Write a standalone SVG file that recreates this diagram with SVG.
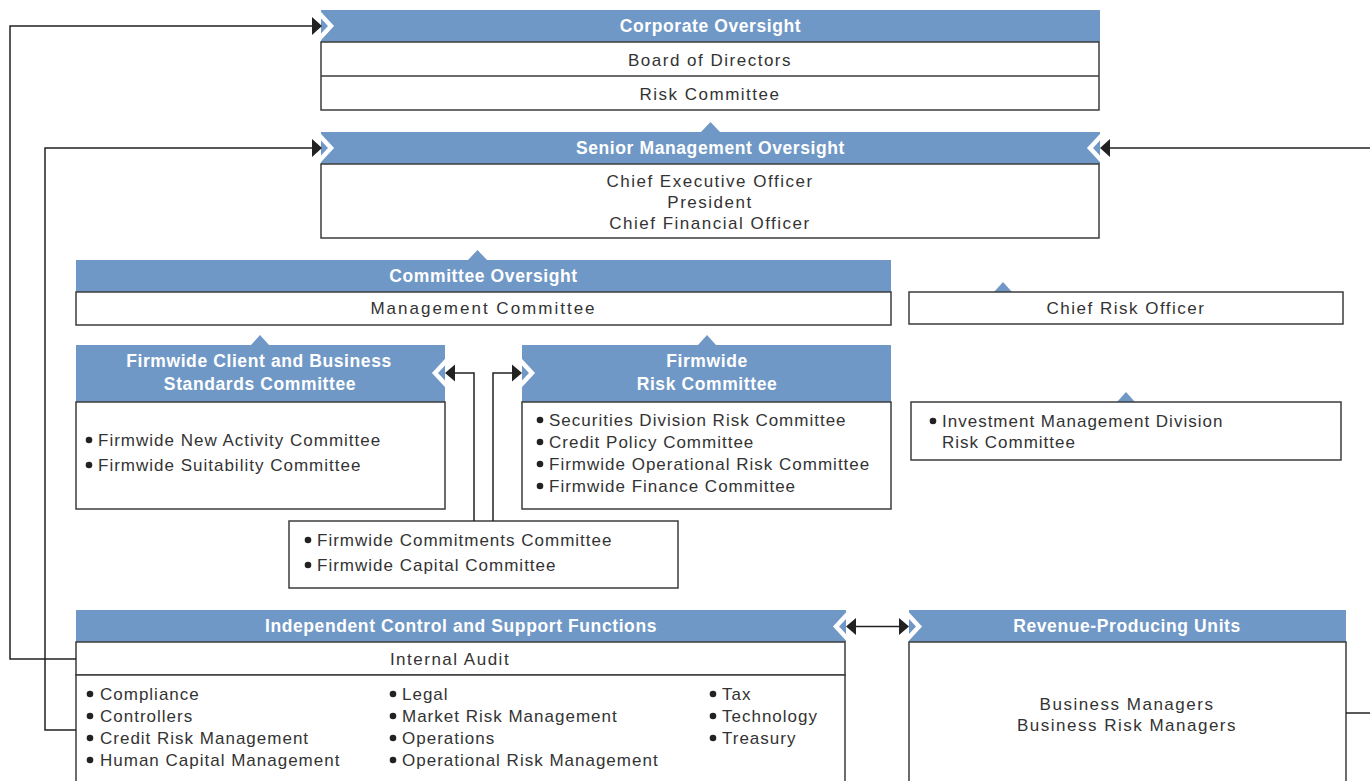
<svg xmlns="http://www.w3.org/2000/svg" width="1370" height="781" viewBox="0 0 1370 781">
<defs>
<style>
.hdr{fill:#7098C6;}
.notch{fill:#7098C6;}
.box{fill:#fff;stroke:#3c3c3c;stroke-width:1.5;}
.div{stroke:#3c3c3c;stroke-width:1.5;}
.chev{fill:none;stroke:#fff;stroke-width:4.5;stroke-linejoin:miter;}
.ht{font-family:"Liberation Sans",Arial,sans-serif;font-weight:bold;font-size:17.5px;letter-spacing:0.6px;fill:#fff;text-anchor:middle;}
.bt{font-family:"Liberation Sans",Arial,sans-serif;font-size:17px;letter-spacing:1.5px;fill:#333;}
.li{font-family:"Liberation Sans",Arial,sans-serif;font-size:17px;letter-spacing:1px;fill:#333;}
.c{text-anchor:middle;}
.bl{fill:#222;}
.ln{fill:none;stroke:#222;stroke-width:1.5;}
.ah{fill:#222;}
</style>
</defs>
<rect width="1370" height="781" fill="#fff"/>

<g id="corporate-oversight">
<rect class="hdr" x="321" y="10" width="779" height="32"/>
<polyline class="chev" points="319,13 331,26 319,39"/>
<rect class="box" x="321" y="42" width="778" height="68"/>
<line class="div" x1="321" y1="76" x2="1099" y2="76"/>
<text class="ht" x="710.5" y="32">Corporate Oversight</text>
<text class="bt c" x="710" y="66">Board of Directors</text>
<text class="bt c" x="710" y="99.5">Risk Committee</text>
</g>

<g id="senior-management-oversight">
<polygon class="notch" points="701,132 710.5,122 720,132"/>
<rect class="hdr" x="321" y="132" width="779" height="32"/>
<polyline class="chev" points="319,135 331,148 319,161"/>
<polyline class="chev" points="1102,135 1090,148 1102,161"/>
<rect class="box" x="321" y="164" width="778" height="74"/>
<text class="ht" x="710.5" y="154">Senior Management Oversight</text>
<text class="bt c" x="710" y="187">Chief Executive Officer</text>
<text class="bt c" x="710" y="208">President</text>
<text class="bt c" x="710" y="229">Chief Financial Officer</text>
</g>

<g id="committee-oversight">
<polygon class="notch" points="468,260 477.5,250 487,260"/>
<rect class="hdr" x="76" y="260" width="815" height="32"/>
<rect class="box" x="76" y="292" width="815" height="33"/>
<text class="ht" x="483.5" y="282">Committee Oversight</text>
<text class="bt c" x="483.5" y="314" style="letter-spacing:2px">Management Committee</text>
</g>

<g id="chief-risk-officer">
<polygon class="notch" points="994,292 1003,282 1012,292"/>
<rect class="box" x="909" y="292" width="434" height="32"/>
<text class="bt c" x="1126" y="313.5">Chief Risk Officer</text>
</g>

<g id="firmwide-client-business-standards">
<polygon class="notch" points="251,345 260,335 269,345"/>
<rect class="hdr" x="76" y="345" width="369" height="57"/>
<polyline class="chev" points="447,360 435,373 447,386"/>
<rect class="box" x="76" y="402" width="369" height="107"/>
<text class="ht" x="259" y="367">Firmwide Client and Business</text>
<text class="ht" x="260" y="390">Standards Committee</text>
<circle class="bl" cx="89" cy="440" r="3.3"/>
<text class="li" x="98" y="446">Firmwide New Activity Committee</text>
<circle class="bl" cx="89" cy="465" r="3.3"/>
<text class="li" x="98" y="471">Firmwide Suitability Committee</text>
</g>

<g id="firmwide-risk-committee">
<polygon class="notch" points="698,345 707,335 716,345"/>
<rect class="hdr" x="522" y="345" width="369" height="57"/>
<polyline class="chev" points="520,360 532,373 520,386"/>
<rect class="box" x="522" y="402" width="369" height="107"/>
<text class="ht" x="707" y="367">Firmwide</text>
<text class="ht" x="707" y="390">Risk Committee</text>
<circle class="bl" cx="540" cy="420" r="3.3"/>
<text class="li" x="549" y="426">Securities Division Risk Committee</text>
<circle class="bl" cx="540" cy="442" r="3.3"/>
<text class="li" x="549" y="448">Credit Policy Committee</text>
<circle class="bl" cx="540" cy="464" r="3.3"/>
<text class="li" x="549" y="470">Firmwide Operational Risk Committee</text>
<circle class="bl" cx="540" cy="486" r="3.3"/>
<text class="li" x="549" y="492">Firmwide Finance Committee</text>
</g>

<g id="imd-risk-committee">
<polygon class="notch" points="1117,402 1126,392 1135,402"/>
<rect class="box" x="911" y="402" width="430" height="58"/>
<circle class="bl" cx="933" cy="421" r="3.3"/>
<text class="li" x="942" y="427">Investment Management Division</text>
<text class="li" x="942" y="448">Risk Committee</text>
</g>

<g id="commitments-capital">
<rect class="box" x="289" y="521" width="389" height="67"/>
<circle class="bl" cx="308" cy="540" r="3.3"/>
<text class="li" x="317" y="546">Firmwide Commitments Committee</text>
<circle class="bl" cx="308" cy="565" r="3.3"/>
<text class="li" x="317" y="571">Firmwide Capital Committee</text>
</g>

<g id="independent-control">
<rect class="hdr" x="76" y="610" width="770" height="32"/>
<polyline class="chev" points="848,613.5 836,626.5 848,639.5"/>
<rect class="box" x="76" y="642" width="769" height="33"/>
<rect class="box" x="76" y="675" width="769" height="120"/>
<text class="ht" x="461" y="632">Independent Control and Support Functions</text>
<text class="bt c" x="450" y="665">Internal Audit</text>
<circle class="bl" cx="90" cy="694" r="3.3"/>
<text class="li" x="100" y="700">Compliance</text>
<circle class="bl" cx="90" cy="716" r="3.3"/>
<text class="li" x="100" y="722">Controllers</text>
<circle class="bl" cx="90" cy="738" r="3.3"/>
<text class="li" x="100" y="744">Credit Risk Management</text>
<circle class="bl" cx="90" cy="760" r="3.3"/>
<text class="li" x="100" y="766">Human Capital Management</text>
<circle class="bl" cx="393" cy="694" r="3.3"/>
<text class="li" x="402" y="700">Legal</text>
<circle class="bl" cx="393" cy="716" r="3.3"/>
<text class="li" x="402" y="722">Market Risk Management</text>
<circle class="bl" cx="393" cy="738" r="3.3"/>
<text class="li" x="402" y="744">Operations</text>
<circle class="bl" cx="393" cy="760" r="3.3"/>
<text class="li" x="402" y="766">Operational Risk Management</text>
<circle class="bl" cx="713" cy="694" r="3.3"/>
<text class="li" x="722" y="700">Tax</text>
<circle class="bl" cx="713" cy="716" r="3.3"/>
<text class="li" x="722" y="722">Technology</text>
<circle class="bl" cx="713" cy="738" r="3.3"/>
<text class="li" x="722" y="744">Treasury</text>
</g>

<g id="revenue-producing-units">
<rect class="hdr" x="909" y="610" width="437" height="32"/>
<polyline class="chev" points="907,613.5 919,626.5 907,639.5"/>
<rect class="box" x="909" y="642" width="437" height="150"/>
<text class="ht" x="1127" y="632">Revenue-Producing Units</text>
<text class="bt c" x="1127" y="710">Business Managers</text>
<text class="bt c" x="1127" y="731">Business Risk Managers</text>
</g>

<g id="connectors">
<polyline class="ln" points="76,659 10,659 10,26 312,26"/>
<polygon class="ah" points="312,17 322,26 312,35"/>
<polyline class="ln" points="76,730 45,730 45,148 312,148"/>
<polygon class="ah" points="312,139 322,148 312,157"/>
<polyline class="ln" points="1372,148 1110,148"/>
<polygon class="ah" points="1110,139 1100,148 1110,157"/>
<polyline class="ln" points="1346,713 1372,713"/>
<polyline class="ln" points="474,521 474,373 455,373"/>
<polygon class="ah" points="455,364.5 445,373 455,381.5"/>
<polyline class="ln" points="493,521 493,373 512,373"/>
<polygon class="ah" points="512,364.5 522,373 512,381.5"/>
<polyline class="ln" points="856,626.5 899,626.5"/>
<polygon class="ah" points="856,618 846,626.5 856,635"/>
<polygon class="ah" points="899,618 909,626.5 899,635"/>
</g>
</svg>
